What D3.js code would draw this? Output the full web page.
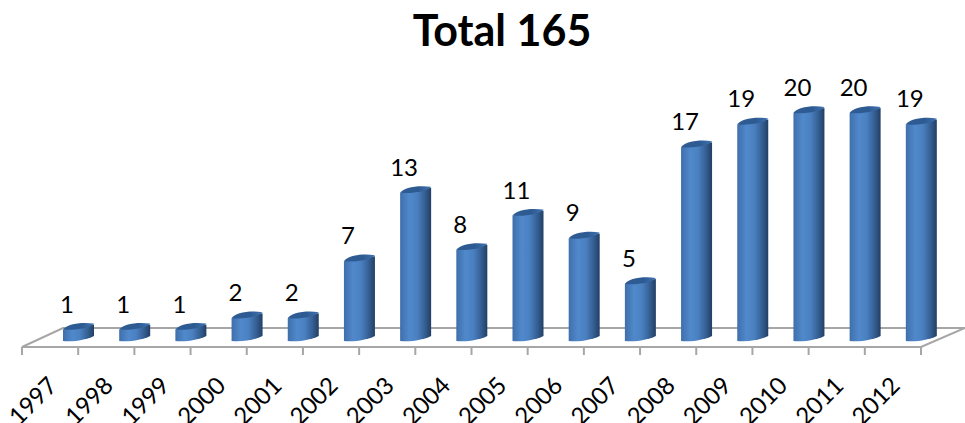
<!DOCTYPE html>
<html><head><meta charset="utf-8">
<script src="https://cdn.jsdelivr.net/npm/d3@7"></script>
<style>html,body{margin:0;padding:0;background:#fff;overflow:hidden}svg{display:block}text{font-family:Lato,"Open Sans",sans-serif;fill:#000}</style>
</head><body><svg id="c" width="965" height="423"></svg>
<script>
const title = "Total 165";
const years = ["1997","1998","1999","2000","2001","2002","2003","2004","2005","2006","2007","2008","2009","2010","2011","2012"];
const counts = [1,1,1,2,2,7,13,8,11,9,5,17,19,20,20,19];

const svg = d3.select("#c");
const x = d3.scaleBand().domain(years).range([22,921]).padding(0);
const y = d3.scaleLinear().domain([0,20]).range([341,113]);
const floorY = 347, backY = 328, depthL = 41, barW = 31, tilt = 5;

const defs = svg.append("defs");
const g1 = defs.append("linearGradient").attr("id","body");
[[0,"#3f6fab"],[.3,"#5089cc"],[.55,"#4a80c0"],[.8,"#355f94"],[1,"#223f63"]].forEach(s=>g1.append("stop").attr("offset",s[0]).attr("stop-color",s[1]));
const g2 = defs.append("linearGradient").attr("id","top");
[[0,"#2f5c94"],[.6,"#2e5a92"],[1,"#3f73b0"]].forEach(s=>g2.append("stop").attr("offset",s[0]).attr("stop-color",s[1]));

const grey = "#a6a6a6";
const grid = svg.append("g").attr("stroke",grey).attr("stroke-width",2).attr("fill","none");
grid.append("path").attr("d",`M${x.range()[0]},${floorY}L${x.range()[0]+depthL},${backY}H965`);
grid.append("path").attr("d",`M${x.range()[0]},${floorY}H${x.range()[1]}L${x.range()[1]+44},${backY}`);
grid.selectAll("line").data([...years,null]).join("line")
  .attr("x1",(d,i)=>x.range()[0]+i*x.bandwidth()).attr("x2",(d,i)=>x.range()[0]+i*x.bandwidth())
  .attr("y1",floorY).attr("y2",floorY+8);

const bars = svg.append("g").selectAll("g").data(years).join("g")
  .attr("transform",d=>`translate(${x(d)+depthL},0)`);
bars.append("path").attr("fill","url(#body)")
  .attr("d",(d,i)=>{
    const t=y(counts[i]), b=y(0);
    return `M0,${t}L${barW},${t-tilt}V${b-tilt}C${barW-8},${b-1} ${barW-20},${b+1} 0,${b}Z`;
  });
bars.append("path").attr("fill","url(#top)")
  .attr("d",(d,i)=>{
    const t=y(counts[i]);
    return `M0,${t}C3,${t-5} ${barW-14},${t-8} ${barW},${t-tilt-1}C${barW-4},${t-1} 12,${t+1} 0,${t}Z`;
  });

svg.append("g").selectAll("text").data(years).join("text")
  .attr("x",d=>x(d)+45).attr("y",(d,i)=>y(counts[i])-17)
  .attr("text-anchor","middle").attr("font-size",24)
  .text((d,i)=>counts[i]);

const axis = d3.axisBottom(x).tickSize(0).tickPadding(0);
const ag = svg.append("g").attr("transform",`translate(0,${floorY})`).call(axis);
ag.select(".domain").remove();
ag.selectAll("text").attr("font-size",24).attr("font-family",null).attr("dy",null)
  .attr("text-anchor","middle").attr("dominant-baseline","central").attr("y",0)
  .attr("transform","translate(-18,53) rotate(-45)");

svg.append("text").attr("x",502).attr("y",46).attr("text-anchor","middle")
  .attr("font-size",43).attr("font-weight",700).text(title);
</script></body></html>
